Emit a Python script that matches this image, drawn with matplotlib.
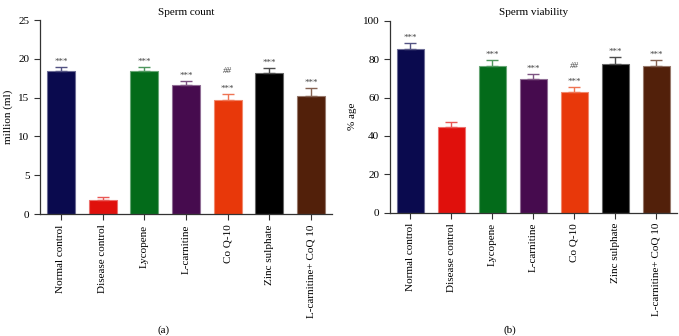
import matplotlib
matplotlib.use("Agg")
import matplotlib.pyplot as plt
import matplotlib.colors as mcolors
import numpy as np

plt.rcParams['font.family'] = ['Liberation Serif', 'DejaVu Serif']

categories = ["Normal control", "Disease control", "Lycopene", "L-carnitine",
              "Co Q-10", "Zinc sulphate", "L-carnitine+ CoQ 10"]
count_vals = [18.4, 1.8, 18.4, 16.7, 14.7, 18.2, 15.2]
count_err = [0.6, 0.4, 0.6, 0.4, 0.8, 0.6, 1.1]
viab_vals = [85.3, 44.5, 76.2, 69.5, 62.9, 77.4, 76.6]
viab_err = [3.2, 2.9, 3.5, 2.7, 2.6, 3.5, 3.1]
stars_count = ["***", "", "***", "***", "***", "***", "***"]
stars_viab = ["***", "", "***", "***", "***", "***", "***"]
hash_marks = ["", "", "", "", "##", "", ""]
colors = ["#0a0a4e", "#e0100c", "#036b1a", "#460b4e", "#e8380a", "#000000", "#52200a"]


def lighten(c, f=0.35):
    r, g, b = mcolors.to_rgb(c)
    return (r + (1 - r) * f, g + (1 - g) * f, b + (1 - b) * f)


fig = plt.figure(figsize=(6.79, 3.36), dpi=100)
ax1 = fig.add_axes([0.0589, 0.363, 0.430, 0.577])
ax2 = fig.add_axes([0.574, 0.367, 0.423, 0.571])


def draw(ax, vals, errs, stars, ymax, step, title, ylabel, label, label_x, hash_off, star_off):
    x = np.arange(len(categories))
    for i in range(len(categories)):
        ax.bar(x[i], vals[i], width=0.67, color=colors[i],
               edgecolor=lighten(colors[i], 0.4), linewidth=0.8, zorder=2)
        ec = lighten(colors[i], 0.3)
        ax.errorbar(x[i], vals[i], yerr=[[0], [errs[i]]], fmt='none',
                    ecolor=ec, elinewidth=1.0, capsize=4.5, capthick=1.0, zorder=3)
        if stars[i]:
            ax.text(x[i], vals[i] + errs[i] + star_off, stars[i], ha='center',
                    va='bottom', fontsize=6.5, color='#444444')
        if hash_marks[i]:
            ax.text(x[i], vals[i] + errs[i] + hash_off, hash_marks[i], ha='center',
                    va='bottom', fontsize=6.5, color='#444444', style='italic')
    ax.set_xlim(-0.5, 6.5)
    ax.set_ylim(0, ymax)
    ax.set_yticks(np.arange(0, ymax + 0.1, step))
    ax.set_xticks(x)
    ax.set_xticklabels(categories, rotation=90, fontsize=8)
    ax.tick_params(axis='y', labelsize=8, length=4, width=0.8, color='#333333')
    ax.tick_params(axis='x', length=4, width=0.8, color='#333333')
    for s in ['top', 'right']:
        ax.spines[s].set_visible(False)
    for s in ['left', 'bottom']:
        ax.spines[s].set_linewidth(0.9)
        ax.spines[s].set_color('#333333')
    ax.set_title(title, fontsize=8, pad=4)
    ax.set_ylabel(ylabel, fontsize=8)
    fig.text(label_x, 0.018, label, ha='center', va='center', fontsize=8)


draw(ax1, count_vals, count_err, stars_count, 25, 5, "Sperm count", "million (ml)", "(a)", 0.2415, 2.4, 0.15)
draw(ax2, viab_vals, viab_err, stars_viab, 100, 20, "Sperm viability", "% age", "(b)", 0.751, 9.0, 0.6)

fig.savefig("out.png", dpi=100)
